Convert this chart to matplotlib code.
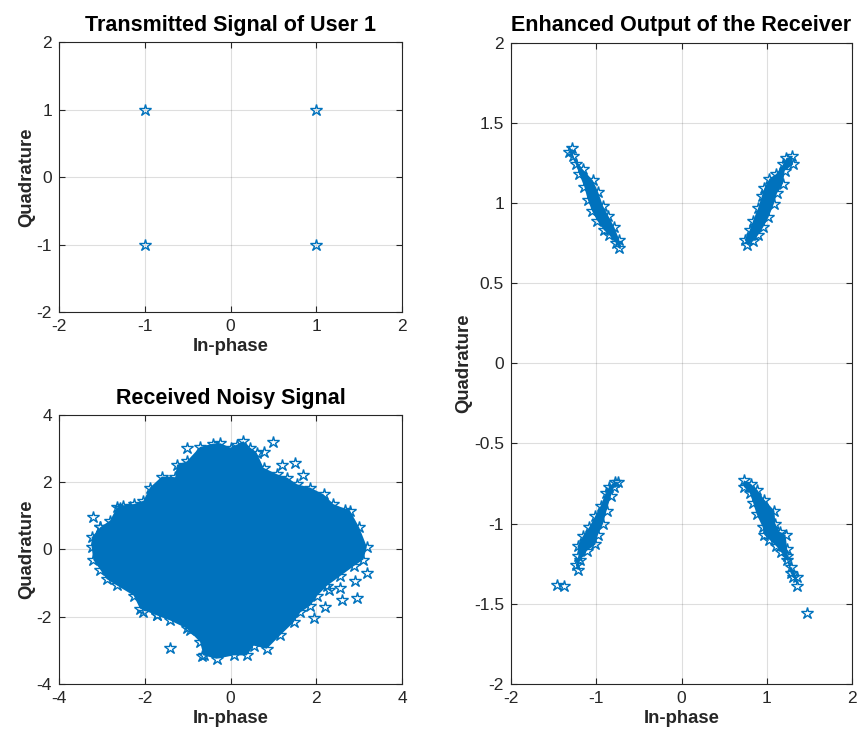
import numpy as np
import matplotlib
matplotlib.use('Agg')
import matplotlib.pyplot as plt

plt.rcParams['font.family'] = ['Liberation Sans', 'DejaVu Sans']
plt.rcParams['axes.unicode_minus'] = False

BLUE = '#0072BD'
AXC = (0.15, 0.15, 0.15)

# transmitted QPSK symbols of user 1
tx_i = [-1, 1, -1, 1]
tx_q = [1, 1, -1, -1]

# received noisy signal: outline of the dense cloud (clockwise from top)
rx_i = [-0.40, -0.71, -1.02, -1.25, -1.29, -1.60, -1.88, -2.03, -2.26, -2.50,
        -2.65, -2.81, -3.04, -3.24, -3.24, -3.20, -3.04, -2.89, -2.65, -2.26,
        -2.11, -1.72, -1.41, -1.02, -0.71, -0.63, -0.32, 0.07, 0.38, 0.54,
        0.85, 1.16, 1.47, 1.63, 1.86, 2.02, 2.25, 2.56, 2.87, 3.10,
        3.18, 3.00, 2.79, 2.40, 2.17, 1.86, 1.55, 1.32, 1.08, 0.77,
        0.61, 0.46, 0.30, 0.15, 0.00, -0.24]
rx_q = [3.15, 3.05, 2.62, 2.52, 2.15, 2.17, 1.84, 1.45, 1.35, 1.30,
        1.25, 0.86, 0.66, 0.36, 0.08, -0.31, -0.60, -0.88, -1.07, -1.37,
        -1.76, -1.96, -2.11, -2.35, -2.75, -3.15, -3.25, -3.15, -3.15, -2.86,
        -2.95, -2.55, -2.17, -1.87, -1.67, -1.38, -1.08, -0.79, -0.50, -0.30,
        0.08, 0.66, 1.15, 1.35, 1.64, 1.84, 1.94, 2.14, 2.24, 2.43,
        2.88, 3.03, 3.22, 3.12, 3.03, 3.16]
# received noisy signal: scattered points outside the cloud
rx_out_i = [-3.21, -1.02, 1.00, 0.77, 1.20, 1.51, 1.70, 2.68, 3.18, 2.91,
            2.95, 2.60, 2.56, 2.29, 2.21, 1.94, -1.41, -0.67, -0.94, -2.03,
            -1.72, -2.58, -2.34, -3.04]
rx_out_q = [0.98, 3.01, 3.20, 2.91, 2.51, 2.58, 2.21, 1.17, -0.69, -0.94,
            -1.45, -1.50, -1.15, -1.20, -1.70, -2.03, -2.94, -3.17, -2.39, -1.85,
            -1.95, 1.22, 1.27, 0.68]

# enhanced receiver output: outline of each cluster
c1_i = [0.74, 0.80, 0.84, 0.90, 0.94, 0.97, 1.03, 1.11, 1.19, 1.23, 1.29,
        1.31, 1.21, 1.19, 1.12, 1.08, 1.02, 0.96, 0.90, 0.84, 0.77]
c1_q = [0.77, 0.83, 0.89, 0.97, 1.04, 1.09, 1.15, 1.18, 1.24, 1.28, 1.29,
        1.24, 1.20, 1.12, 1.06, 0.99, 0.91, 0.85, 0.80, 0.76, 0.74]

c2_i = [-1.32, -1.24, -1.20, -1.14, -1.10, -1.05, -0.99, -0.91, -0.85, -0.77,
        -0.73, -0.73, -0.79, -0.86, -0.92, -0.98, -1.04, -1.16, -1.27, -1.28]
c2_q = [1.32, 1.24, 1.18, 1.10, 1.02, 0.95, 0.89, 0.83, 0.80, 0.75,
        0.72, 0.77, 0.85, 0.92, 0.98, 1.07, 1.14, 1.21, 1.29, 1.34]

c3_i = [-0.78, -0.85, -0.89, -0.95, -1.01, -1.08, -1.16, -1.22, -1.21, -1.24,
        -1.22, -1.19, -1.11, -1.01, -0.98, -0.92, -0.88, -0.83, -0.79, -0.74,
        -1.46, -1.38]
c3_q = [-0.74, -0.77, -0.81, -0.89, -0.95, -1.02, -1.08, -1.14, -1.20, -1.26,
        -1.29, -1.23, -1.17, -1.13, -1.07, -1.00, -0.92, -0.83, -0.77, -0.74,
        -1.38, -1.39]

c4_i = [0.73, 0.73, 0.80, 0.84, 0.88, 0.95, 0.97, 1.03, 1.11, 1.17, 1.24,
        1.28, 1.31, 1.36, 1.35, 1.28, 1.24, 1.24, 1.22, 1.15, 1.10, 1.09,
        0.97, 0.89, 0.81, 1.47]
c4_q = [-0.73, -0.77, -0.81, -0.87, -0.94, -1.02, -1.07, -1.10, -1.14, -1.18,
        -1.23, -1.31, -1.33, -1.39, -1.33, -1.27, -1.20, -1.16, -1.07, -1.05,
        -1.00, -0.92, -0.85, -0.79, -0.75, -1.56]
# the last points of c3/c4 are strays, not part of the outline
c3_n = 20
c4_n = 25


def matlab_axes(ax, lim, ticks, title):
    ax.set_xlim(lim)
    ax.set_ylim(lim)
    ax.set_xticks(ticks[0])
    ax.set_yticks(ticks[1])
    ax.grid(True, color=AXC, alpha=0.15, lw=0.8)
    ax.set_axisbelow(True)
    for s in ax.spines.values():
        s.set_color(AXC)
        s.set_linewidth(0.8)
    ax.tick_params(direction='in', top=True, right=True, length=4,
                   width=0.8, color=AXC, labelcolor=AXC, labelsize=12.5,
                   pad=5)
    ax.set_title(title, fontsize=15.5, fontweight='bold', pad=8)
    ax.set_xlabel('In-phase', fontsize=13.3, fontweight='bold', color=AXC,
                  labelpad=3)
    ax.set_ylabel('Quadrature', fontsize=13.3, fontweight='bold', color=AXC,
                  labelpad=1)


def stars(ax, x, y):
    ax.plot(x, y, ls='none', marker='*', ms=9, mfc='none', mec=BLUE,
            mew=1.0, zorder=3)


fig = plt.figure(figsize=(8.59, 7.38), dpi=100)
ax1 = fig.add_axes([0.0687, 0.5772, 0.3993, 0.3659])
ax2 = fig.add_axes([0.0687, 0.0732, 0.3993, 0.3645])
ax3 = fig.add_axes([0.5949, 0.0732, 0.3970, 0.8692])

stars(ax1, tx_i, tx_q)
matlab_axes(ax1, (-2, 2), ([-2, -1, 0, 1, 2], [-2, -1, 0, 1, 2]),
            'Transmitted Signal of User 1')

ax2.fill(rx_i, rx_q, color=BLUE, lw=0, zorder=2)
stars(ax2, rx_i, rx_q)
stars(ax2, rx_out_i, rx_out_q)
matlab_axes(ax2, (-4, 4), ([-4, -2, 0, 2, 4], [-4, -2, 0, 2, 4]),
            'Received Noisy Signal')

for ci, cq, n in [(c1_i, c1_q, len(c1_i)), (c2_i, c2_q, len(c2_i)),
                  (c3_i, c3_q, c3_n), (c4_i, c4_q, c4_n)]:
    ax3.fill(ci[:n], cq[:n], color=BLUE, lw=0, zorder=2)
    stars(ax3, ci, cq)
matlab_axes(ax3, (-2, 2), ([-2, -1, 0, 1, 2], np.arange(-2, 2.01, 0.5)),
            'Enhanced Output of the Receiver')
ax3.set_yticklabels(['-2', '-1.5', '-1', '-0.5', '0', '0.5', '1', '1.5', '2'])

fig.savefig('out.png', dpi=100)
